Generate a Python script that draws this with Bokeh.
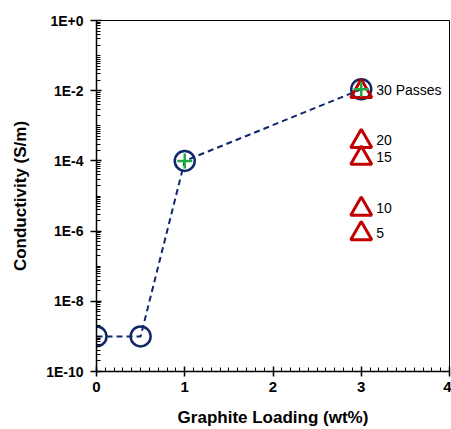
from bokeh.plotting import figure
from bokeh.models import FixedTicker, CustomJSTickFormatter, Range1d, ColumnDataSource
from bokeh.embed import file_html
from bokeh.resources import INLINE
from bokeh.core.properties import value

# ---- data ----
loading = [0, 0.5, 1, 3]
conductivity = [1e-9, 1e-9, 1e-4, 1.1e-2]

plus_loading = [1, 3]
plus_cond = [1e-4, 1.1e-2]

pass_loading = [3, 3, 3, 3, 3]
pass_cond = [9.5e-3, 3.6e-4, 1.2e-4, 4.2e-6, 8.5e-7]
pass_labels = ["30 Passes", "20", "15", "10", "5"]

x_ticks = [0, 1, 2, 3, 4]
y_ticks = [1e-10, 1e-8, 1e-6, 1e-4, 1e-2, 1e0]

FONT = "Liberation Sans"
NAVY = "#10286A"
RED = "#C00000"
GREEN = "#1FAA45"

p = figure(width=451, height=429, y_axis_type="log",
           x_range=Range1d(0, 4), y_range=Range1d(1e-10, 1),
           output_backend="svg", toolbar_location=None,
           min_border_left=96, min_border_right=2,
           min_border_top=20, min_border_bottom=56)

p.outline_line_color = "black"
p.outline_line_width = 1
p.xgrid.visible = False
p.ygrid.visible = False

x_minor = [i / 10 for i in range(41) if i % 10]
p.xaxis.ticker = FixedTicker(ticks=x_ticks, minor_ticks=x_minor)
y_minor = []
for e in range(-10, 0):
    for m in range(2, 10):
        y_minor.append(m * 10.0 ** e)
    if e % 2:
        y_minor.append(10.0 ** e)
p.yaxis.ticker = FixedTicker(ticks=y_ticks, minor_ticks=y_minor)
p.yaxis.formatter = CustomJSTickFormatter(code="""
const e = Math.round(Math.log10(tick));
return "1E" + (e >= 0 ? "+" : "") + e;
""")

p.xaxis.major_tick_line_color = "black"
p.xaxis.major_tick_line_width = 1.5
p.xaxis.minor_tick_line_color = "black"
p.yaxis.major_tick_line_color = "black"
p.yaxis.major_tick_line_width = 1.5
p.yaxis.minor_tick_line_color = "black"
p.xaxis.major_tick_in = 5
p.xaxis.major_tick_out = 5
p.yaxis.major_tick_in = 5
p.yaxis.major_tick_out = 6
p.xaxis.minor_tick_in = 4
p.xaxis.minor_tick_out = 0
p.yaxis.minor_tick_in = 4
p.yaxis.minor_tick_out = 0

for ax in (p.xaxis, p.yaxis):
    ax.axis_line_color = "black"
    ax.axis_line_width = 1.5
    ax.major_label_text_font = FONT
    ax.major_label_text_font_style = "bold"
    ax.major_label_text_color = "black"
    ax.axis_label_text_font = FONT
    ax.axis_label_text_font_style = "bold"
    ax.axis_label_text_font_size = "17px"
    ax.axis_label_text_color = "black"

p.xaxis.major_label_text_font_size = "15px"
p.yaxis.major_label_text_font_size = "14px"
p.xaxis.major_label_standoff = 5
p.yaxis.major_label_standoff = 7
p.xaxis.axis_label = "Graphite Loading (wt%)"
p.yaxis.axis_label = "Conductivity (S/m)"
p.xaxis.axis_label_standoff = 13
p.yaxis.axis_label_standoff = 13

src = ColumnDataSource(dict(x=loading, y=conductivity))
p.line("x", "y", source=src, line_color=NAVY, line_width=2, line_dash="6 4")
p.scatter("x", "y", source=src, marker="circle", size=20, fill_color=None,
          line_color=NAVY, line_width=2.5)

psrc = ColumnDataSource(dict(x=pass_loading, y=pass_cond, t=pass_labels))
p.scatter("x", "y", source=psrc, marker="triangle", size=21, fill_color=None,
          line_color=RED, line_width=3)
p.scatter(plus_loading, plus_cond, marker="cross", size=15,
          line_color=GREEN, line_width=2.5)
p.text("x", "y", text="t", source=psrc, x_offset=15, y_offset=-1,
       text_baseline="middle", text_align="left",
       text_font=value(FONT), text_font_size="14px", text_color="black")

open("out.html", "w").write(file_html(p, INLINE))
